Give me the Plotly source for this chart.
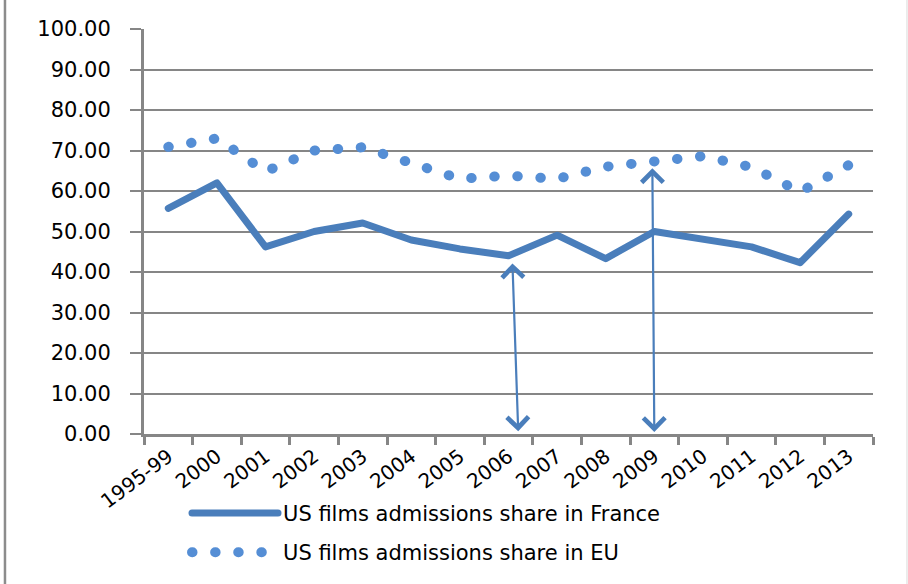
import plotly.graph_objects as go

categories = ["1995-99", "2000", "2001", "2002", "2003", "2004", "2005", "2006",
              "2007", "2008", "2009", "2010", "2011", "2012", "2013"]
france = [55.7, 62.0, 46.2, 50.0, 52.1, 47.9, 45.7, 44.0, 49.1, 43.3, 50.0, 48.0, 46.2, 42.3, 54.3]
eu = [70.9, 73.0, 64.8, 70.0, 70.8, 67.0, 63.0, 63.8, 63.0, 66.0, 67.0, 68.6, 65.9, 59.8, 66.4]

# double-headed arrows (category index, value)
arrow_top_x = [7.08, 9.96]
arrow_top_y = [42.5, 66.0]
arrow_bot_x = [7.2, 10.0]
arrow_bot_y = [0.7, 0.5]

FONT = "DejaVu Sans"
GRID = "#868686"

fig = go.Figure()
fig.add_trace(go.Scatter(
    x=categories, y=france, mode="lines",
    name="US films admissions share in France",
    line=dict(color="#4A7EBB", width=7),
    legendgroup="a",
))
fig.add_trace(go.Scatter(
    x=categories, y=eu, mode="lines",
    name="US films admissions share in EU",
    line=dict(color="#558ED5", width=10, dash="0.5px,22.6px"),
    legendgroup="b",
))

for tx, ty, bx, by in zip(arrow_top_x, arrow_top_y, arrow_bot_x, arrow_bot_y):
    fig.add_annotation(
        x=bx, y=by, ax=tx, ay=ty, xref="x", yref="y", axref="x", ayref="y",
        text="", showarrow=True, arrowside="end+start",
        arrowhead=4, startarrowhead=4, arrowsize=1.9, startarrowsize=1.9,
        arrowwidth=2.2, arrowcolor="#4A7EBB", standoff=0, startstandoff=0,
    )

# chart-area border remnants
fig.add_shape(type="line", xref="paper", yref="paper", x0=-0.1907, x1=-0.1907,
              y0=-0.45, y1=1.1, line=dict(color="#8c8c8c", width=2.5))
fig.add_shape(type="line", xref="paper", yref="paper", x0=1.0466, x1=1.0466,
              y0=-0.45, y1=1.1, line=dict(color="#e6e6e6", width=1.5))

fig.update_layout(
    width=908, height=584,
    margin=dict(l=144, r=35, t=29, b=150, autoexpand=False),
    paper_bgcolor="white", plot_bgcolor="white",
    font=dict(family=FONT, size=21, color="#000000"),
    showlegend=True,
    legend=dict(
        x=0.059, y=-0.145, xanchor="left", yanchor="top",
        traceorder="grouped", tracegroupgap=9, itemwidth=86,
        font=dict(family=FONT, size=21, color="#000000"),
        bgcolor="rgba(0,0,0,0)",
    ),
    xaxis=dict(
        type="category", range=[-0.5, 14.5],
        showgrid=False, showline=True, linecolor=GRID, linewidth=3,
        ticks="outside", ticklen=8, tickwidth=3, tickcolor=GRID,
        tickson="boundaries", tickangle=-37,
        tickfont=dict(family=FONT, size=20, color="#000000"),
        zeroline=False,
    ),
    yaxis=dict(
        range=[0, 100], dtick=10, tickformat=".2f",
        showgrid=True, gridcolor=GRID, gridwidth=2.3,
        showline=True, linecolor=GRID, linewidth=3,
        ticks="outside", ticklen=11, tickwidth=2.3, tickcolor=GRID,
        ticklabelstandoff=15,
        tickfont=dict(family=FONT, size=21, color="#000000"),
        zeroline=False,
    ),
)

post = """
document.body.style.margin = '0';
var gd = document.getElementById('{plot_id}');
gd.querySelectorAll('path.js-line').forEach(function(p){ p.style.strokeLinecap='round'; p.style.strokeLinejoin='round'; });
"""
fig.write_html("out.html", post_script=post, config={"displayModeBar": False})
